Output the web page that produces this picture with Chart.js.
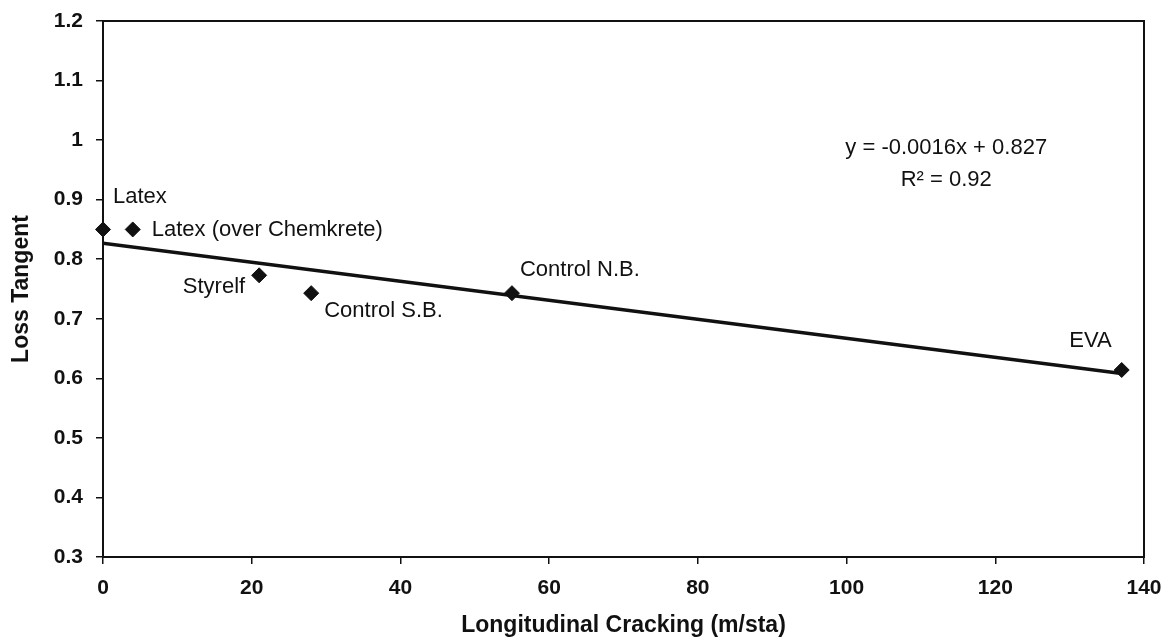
<!DOCTYPE html>
<html>
<head>
<meta charset="utf-8">
<script src="https://cdn.jsdelivr.net/npm/chart.js@4.4.0/dist/chart.umd.min.js"></script>
<style>
  html, body { margin: 0; padding: 0; background: #fff; }
  #wrap { width: 1171px; height: 642px; }
</style>
</head>
<body>
<div id="wrap"><canvas id="chart"></canvas></div>
<script>
'use strict';

/* ── Data ───────────────────────────────────────────────────────────────── */
const mixNames   = ['Latex', 'Latex (over Chemkrete)', 'Styrelf', 'Control S.B.', 'Control N.B.', 'EVA'];
const crackingX  = [0, 4, 21, 28, 55, 137];
const lossTanY   = [0.85, 0.85, 0.773, 0.743, 0.743, 0.614];

const trendX     = [0, 137];
const trendY     = [0.827, 0.608];
const trendText  = ['y = -0.0016x + 0.827', 'R\u00B2 = 0.92'];

const xTicks     = [0, 20, 40, 60, 80, 100, 120, 140];
const yTicks     = [0.3, 0.4, 0.5, 0.6, 0.7, 0.8, 0.9, 1, 1.1, 1.2];

/* label placement (pixels from the marker), kept apart from the data */
const labelStyle = [
    { dx: 10,  dy: -33, align: 'left'  },
    { dx: 19,  dy: 0,   align: 'left'  },
    { dx: -14, dy: 12,  align: 'right' },
    { dx: 13,  dy: 18,  align: 'left'  },
    { dx: 8,   dy: -23, align: 'left'  },
    { dx: -10, dy: -29, align: 'right' },
];

const FONT = '"Liberation Sans", Arial, sans-serif';

/* ── Frame + point labels + equation ── */
const decorPlugin = {
    id: 'decor',
    afterDraw(chart) {
        const { ctx, chartArea: a, scales } = chart;
        ctx.save();
        ctx.strokeStyle = '#111';
        ctx.lineWidth = 2;
        ctx.strokeRect(a.left, a.top, a.right - a.left, a.bottom - a.top);

        ctx.fillStyle = '#111';
        ctx.font = '22px ' + FONT;
        ctx.textBaseline = 'middle';
        mixNames.forEach((name, i) => {
            const s = labelStyle[i];
            ctx.textAlign = s.align;
            ctx.fillText(name, scales.x.getPixelForValue(crackingX[i]) + s.dx,
                               scales.y.getPixelForValue(lossTanY[i]) + s.dy);
        });

        ctx.textAlign = 'center';
        const cx = a.left + (a.right - a.left) * 0.81;
        ctx.fillText(trendText[0], cx, a.top + 127);
        ctx.fillText(trendText[1], cx, a.top + 159);
        ctx.restore();
    },
};

new Chart(document.getElementById('chart').getContext('2d'), {
    type: 'scatter',
    data: {
        datasets: [
            {
                label: 'Mixes',
                data: crackingX.map((x, i) => ({ x, y: lossTanY[i] })),
                pointStyle: 'rectRot',
                pointRadius: 7.5,
                backgroundColor: '#111',
                borderColor: '#111',
                borderWidth: 1,
                clip: false,
                order: 1,
            },
            {
                label: 'Linear fit',
                type: 'line',
                data: trendX.map((x, i) => ({ x, y: trendY[i] })),
                borderColor: '#111',
                borderWidth: 3.5,
                pointRadius: 0,
                fill: false,
                order: 2,
            },
        ],
    },
    options: {
        responsive: true,
        maintainAspectRatio: false,
        animation: false,
        layout: { padding: { top: 21, right: 27, bottom: 0, left: 0 } },
        plugins: {
            legend: { display: false },
            tooltip: { enabled: false },
        },
        scales: {
            x: {
                type: 'linear',
                min: 0, max: 140,
                afterBuildTicks: s => { s.ticks = xTicks.map(v => ({ value: v })); },
                afterFit: s => { s.height = 85; s.paddingLeft = 0; s.paddingRight = 0; },
                border: { color: '#111', width: 2 },
                grid: { drawOnChartArea: false, color: '#111', tickLength: 7, lineWidth: 1.5 },
                ticks: { color: '#111', font: { family: FONT, size: 21, weight: 'bold' }, padding: 12, maxRotation: 0 },
                title: {
                    display: true, text: 'Longitudinal Cracking (m/sta)', color: '#111',
                    font: { family: FONT, size: 23, weight: 'bold' }, padding: { top: 4, bottom: 3 },
                },
            },
            y: {
                type: 'linear',
                min: 0.3, max: 1.2,
                afterBuildTicks: s => { s.ticks = yTicks.map(v => ({ value: v })); },
                afterFit: s => { s.width = 103; s.paddingTop = 0; s.paddingBottom = 0; },
                border: { color: '#111', width: 2 },
                grid: { drawOnChartArea: false, color: '#111', tickLength: 7, lineWidth: 1.5 },
                ticks: {
                    color: '#111', font: { family: FONT, size: 21, weight: 'bold' }, padding: 13,
                    callback: v => String(Number(v.toFixed(1))),
                },
                title: {
                    display: true, text: 'Loss Tangent', color: '#111',
                    font: { family: FONT, size: 23, weight: 'bold' }, padding: { top: 8, bottom: 4 },
                },
            },
        },
    },
    plugins: [decorPlugin],
});
</script>
</body>
</html>
